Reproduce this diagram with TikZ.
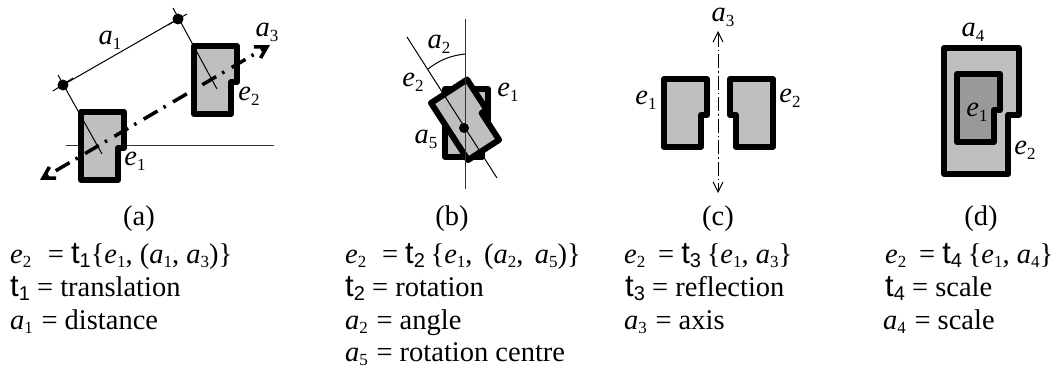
\documentclass[tikz,border=0pt]{standalone}
\usepackage{fontspec}
\setmainfont{Liberation Serif}
\newfontfamily\sansop{Liberation Sans}
\usetikzlibrary{arrows.meta}
\definecolor{elemgrey}{HTML}{BFBFBF}
\definecolor{innergrey}{HTML}{999999}
\definecolor{axisgrey}{HTML}{333333}
\newcommand{\sym}[2]{\textit{#1}\raisebox{-.17em}{\fontsize{17}{17}\selectfont #2}}
\newcommand{\op}[1]{{\sansop\fontsize{31}{33}\selectfont t}\raisebox{-.17em}{\sansop\fontsize{20}{20}\selectfont #1}}
\tikzset{
  elem/.pic={\draw[line width=6pt, line join=round, pic actions] (0,0) -- (43,0) -- (43,36) -- (37,36) -- (37,68) -- (0,68) -- cycle;},
  thinline/.style={line width=1pt},
  label/.style={inner sep=0pt, font=\fontsize{28.5}{33}\selectfont},
  textline/.style={inner sep=0pt, anchor=base west},
  caption/.style={inner sep=0pt, anchor=base},
}
\begin{document}
\begin{tikzpicture}[x=1pt, y=-1pt, font=\fontsize{28.5}{33}\selectfont]
  \useasboundingbox (0,0) rectangle (1057,369);
  % (a)
  \coordinate (dotA) at (63,85);
  \coordinate (dotB) at (178,19);
  \draw[thinline, axisgrey] (66,145) -- (274,145);
  \pic[fill=elemgrey] at (81,112) {elem};
  \pic[fill=elemgrey] at (194,46) {elem};
  \draw[thinline] (dotA) -- (dotB);
  \draw[thinline] (58,75) -- (102,154);
  \draw[thinline] (173,8) -- (217,89);
  \draw[thinline] (53,91) -- (73,78);
  \draw[thinline] (168,25) -- (187,14);
  \fill (dotA) circle (5.5);
  \fill (dotB) circle (5.5);
  \draw[line width=3.5pt, dash pattern=on 16pt off 7pt on 2.5pt off 8.5pt, dash phase=21pt, {Straight Barb[angle=60:13pt]}-{Straight Barb[angle=60:13pt]}] (40,180) -- (270,45);
  \node[label] (a1) at (110,40) {\sym{a}{1}};
  \node[label] (a3) at (267,32) {\sym{a}{3}};
  \node[label] (e2a) at (249,96) {\sym{e}{2}};
  \node[label] (e1a) at (135,161) {\sym{e}{1}};
  % (b)
  \pic[fill=elemgrey] at (445,89) {elem};
  \pic[fill=elemgrey, rotate=33] at (431,103) {elem};
  \draw[thinline, axisgrey] (465,19) -- (465,189);
  \draw[thinline] (407,37) -- (497,178);
  \draw[thinline] (465,54) to[bend right=15] (428,69);
  \fill (464,128) circle (5);
  \node[label] (a2) at (439,44) {\sym{a}{2}};
  \node[label] (e2b) at (413,82) {\sym{e}{2}};
  \node[label] (e1b) at (508,92) {\sym{e}{1}};
  \node[label] (a5) at (426,139) {\sym{a}{5}};
  % (c)
  \pic[fill=elemgrey] at (664,79) {elem};
  \pic[fill=elemgrey, xscale=-1] at (773,79) {elem};
  \draw[thinline, dash pattern=on 14pt off 3pt on 1.5pt off 3pt, {Straight Barb[length=10pt,width=10pt]}-{Straight Barb[length=10pt,width=10pt]}] (718,31) -- (718,193);
  \node[label] (a3c) at (723,17) {\sym{a}{3}};
  \node[label] (e1c) at (646,100) {\sym{e}{1}};
  \node[label] (e2c) at (790,98) {\sym{e}{2}};
  % (d)
  \pic[fill=elemgrey, xscale=1.74, yscale=1.85] at (944,48) {elem};
  \pic[fill=innergrey] at (957,74) {elem};
  \node[label] (a4) at (973,32) {\sym{a}{4}};
  \node[label] (e1d) at (977,112) {\sym{e}{1}};
  \node[label] (e2d) at (1025,150) {\sym{e}{2}};
  % captions
  \node[caption] (capa) at (139,225) {(a)};
  \node[caption] (capb) at (452,225) {(b)};
  \node[caption] (capc) at (718,225) {(c)};
  \node[caption] (capd) at (981,225) {(d)};
  % text
  \node[textline] (fa1) at (10,263) {\sym{e}{2}\hspace{.33em} = \op{1}\{\sym{e}{1}, (\sym{a}{1}, \sym{a}{3})\}};
  \node[textline] (fa2) at (10,296) {\op{1} = translation};
  \node[textline] (fa3) at (10,329) {\sym{a}{1}\hspace{.05em} = distance};
  \node[textline] (fb1) at (345,263) {\sym{e}{2}\hspace{.3em} = \op{2}\hspace{.2em}\{\sym{e}{1},\hspace{.15em} (\sym{a}{2},\hspace{.15em} \sym{a}{5})\}};
  \node[textline] (fb2) at (345,296) {\op{2} = rotation};
  \node[textline] (fb3) at (345,329) {\sym{a}{2}\hspace{.05em} = angle};
  \node[textline] (fb4) at (345,361) {\sym{a}{5}\hspace{.05em} = rotation centre};
  \node[textline] (fc1) at (624,263) {\sym{e}{2}\hspace{.2em} = \op{3}\hspace{.2em}\{\sym{e}{1}, \sym{a}{3}\}};
  \node[textline] (fc2) at (625,296) {\op{3} = reflection};
  \node[textline] (fc3) at (624,329) {\sym{a}{3}\hspace{.05em} = axis};
  \node[textline] (fd1) at (885,263) {\sym{e}{2}\hspace{.2em} = \op{4}\hspace{.2em}\{\sym{e}{1}, \sym{a}{4}\}};
  \node[textline] (fd2) at (885,296) {\op{4} = scale};
  \node[textline] (fd3) at (883,329) {\sym{a}{4}\hspace{.05em} = scale};
\end{tikzpicture}
\end{document}
